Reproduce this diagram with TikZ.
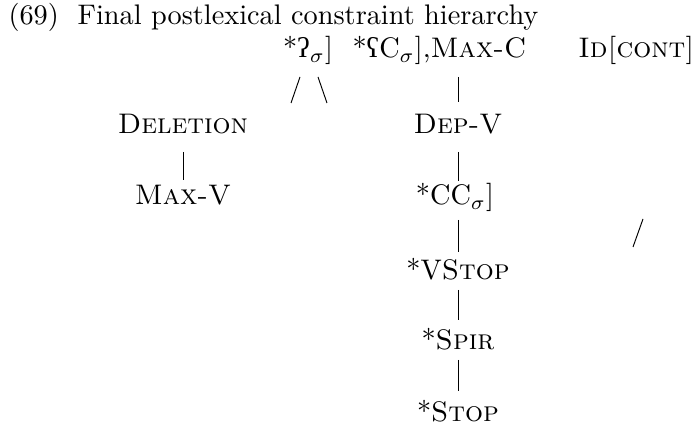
\documentclass[tikz,border=0pt]{standalone}
\usepackage{fontspec}
\newfontfamily\ipa{Liberation Serif}
\begin{document}
\begin{tikzpicture}[x=0.47pt,y=-0.47pt,
  lbl/.style={inner sep=0pt,anchor=base,scale=1.33,transform shape},
  rule/.style={line width=0.45pt}]
\useasboundingbox (0,0) rectangle (697,426);
\node[lbl,anchor=base west] (n69) at (8,25) {(69)};
\node[lbl,anchor=base west] (title) at (77,25) {Final postlexical constraint hierarchy};
\node[lbl] (glot) at (308,58) {*{\ipa ʔ}$_\sigma$]};
\node[lbl,anchor=base west] (phar) at (352,58) {*{\ipa ʕ}C$_\sigma$],\textsc{Max-C}};
\node[lbl,anchor=base east] (ident) at (695,58) {\textsc{Id[cont]}};
\node[lbl] (del) at (183,134) {\textsc{Deletion}};
\node[lbl] (maxv) at (183,205) {\textsc{Max-V}};
\node[lbl] (depv) at (458,134) {\textsc{Dep-V}};
\node[lbl] (cc) at (455,205) {*CC$_\sigma$]};
\node[lbl] (vstop) at (458,280) {*V\textsc{Stop}};
\node[lbl] (spir) at (458,350) {*\textsc{Spir}};
\node[lbl] (stop) at (458,422) {*\textsc{Stop}};
% coordinates for connector ends
\coordinate (s1a) at (291,103); \coordinate (s1b) at (300,77);
\coordinate (s2a) at (318,77);  \coordinate (s2b) at (327,103);
\coordinate (b1a) at (458,77);  \coordinate (b1b) at (458,102);
\coordinate (b2a) at (458,152); \coordinate (b2b) at (458,181);
\coordinate (b3a) at (458,220); \coordinate (b3b) at (458,252);
\coordinate (b4a) at (458,290); \coordinate (b4b) at (458,320);
\coordinate (b5a) at (458,360); \coordinate (b5b) at (458,391);
\coordinate (l1a) at (183,152); \coordinate (l1b) at (183,180);
\coordinate (r1a) at (633,247); \coordinate (r1b) at (643,219);
\draw[rule] (s1a) -- (s1b);
\draw[rule] (s2a) -- (s2b);
\draw[rule] (b1a) -- (b1b);
\draw[rule] (b2a) -- (b2b);
\draw[rule] (b3a) -- (b3b);
\draw[rule] (b4a) -- (b4b);
\draw[rule] (b5a) -- (b5b);
\draw[rule] (l1a) -- (l1b);
\draw[rule] (r1a) -- (r1b);
\end{tikzpicture}
\end{document}
